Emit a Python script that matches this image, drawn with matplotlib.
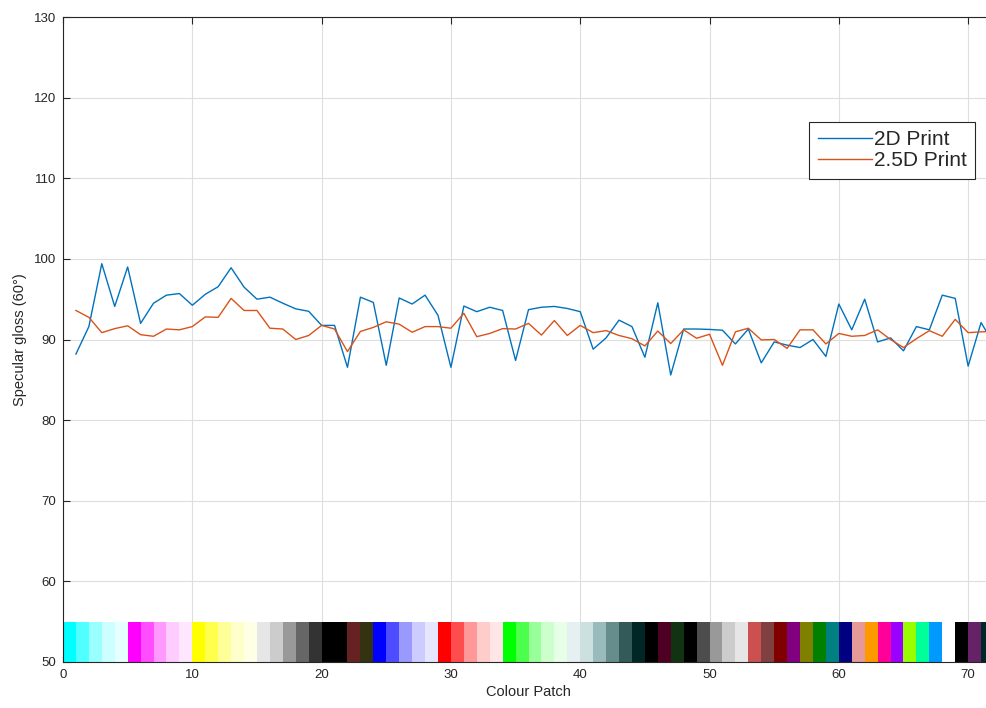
import numpy as np
import matplotlib.pyplot as plt
from matplotlib.lines import Line2D

plt.rcParams['font.family'] = ['Liberation Sans', 'DejaVu Sans']

# gloss readings, patch 1..72
patch_no = list(range(1, 73))
gloss_2d = [88.2, 91.6, 99.4, 94.1, 99.0, 92.0, 94.5, 95.5, 95.7, 94.25,
            95.6, 96.55, 98.9, 96.5, 95.0, 95.25, 94.5, 93.8, 93.5, 91.75,
            91.75, 86.55, 95.25, 94.6, 86.8, 95.15, 94.4, 95.5, 93.0, 86.55,
            94.15, 93.45, 94.0, 93.6, 87.4, 93.7, 94.0, 94.1, 93.85, 93.45,
            88.8, 90.2, 92.4, 91.6, 87.8, 94.55, 85.6, 91.3, 91.3, 91.25,
            91.15, 89.45, 91.3, 87.1, 89.7, 89.3, 89.0, 90.0, 87.9, 94.4,
            91.2, 95.0, 89.7, 90.2, 88.6, 91.6, 91.2, 95.5, 95.1, 86.7,
            92.1, 89.4]
gloss_25d = [93.6, 92.75, 90.85, 91.35, 91.7, 90.6, 90.4, 91.3, 91.2, 91.6,
             92.8, 92.75, 95.1, 93.6, 93.6, 91.4, 91.3, 90.0, 90.5, 91.75,
             91.3, 88.5, 91.0, 91.5, 92.2, 91.9, 90.9, 91.6, 91.6, 91.4,
             93.25, 90.35, 90.75, 91.35, 91.3, 92.0, 90.55, 92.35, 90.5, 91.75,
             90.85, 91.1, 90.5, 90.1, 89.2, 91.05, 89.5, 91.2, 90.15, 90.65,
             86.8, 90.95, 91.4, 89.95, 90.0, 88.9, 91.2, 91.2, 89.45, 90.75,
             90.4, 90.5, 91.2, 90.0, 89.0, 90.1, 91.1, 90.4, 92.5, 90.85,
             90.95, 91.0]

# colour of each printed patch (0-255 RGB)
patch_rgb = [
    (0, 255, 255), (80, 255, 255), (153, 255, 255), (204, 255, 255), (230, 255, 255),
    (255, 0, 255), (255, 77, 255), (255, 153, 255), (255, 204, 255), (255, 230, 255),
    (255, 255, 0), (255, 255, 77), (255, 255, 153), (255, 255, 204), (255, 255, 230),
    (230, 230, 230), (204, 204, 204), (153, 153, 153), (102, 102, 102), (51, 51, 51),
    (0, 0, 0), (0, 0, 0), (102, 34, 34), (51, 51, 17),
    (0, 0, 255), (77, 77, 255), (153, 153, 255), (204, 204, 255), (230, 230, 255),
    (255, 0, 0), (255, 77, 77), (255, 153, 153), (255, 204, 204), (255, 230, 230),
    (0, 255, 0), (77, 255, 77), (153, 255, 153), (204, 255, 204), (230, 255, 230),
    (230, 240, 240), (204, 224, 224), (153, 187, 187), (102, 140, 140), (51, 89, 89),
    (0, 38, 38), (0, 0, 0), (77, 0, 34), (17, 51, 17),
    (0, 0, 0), (77, 77, 77), (153, 153, 153), (204, 204, 204), (230, 230, 230),
    (204, 80, 80), (128, 64, 64), (128, 0, 0), (128, 0, 128), (128, 128, 0),
    (0, 128, 0), (0, 128, 128), (0, 0, 128), (230, 153, 153), (255, 153, 0),
    (255, 0, 153), (153, 0, 255), (153, 255, 0), (0, 255, 153), (0, 153, 255),
    (255, 255, 255), (0, 0, 0), (102, 34, 102), (0, 38, 38),
]

blue = (0, 0.447, 0.741)
orange = (0.85, 0.325, 0.098)
axcol = (0.15, 0.15, 0.15)

fig = plt.figure(figsize=(9.87, 7.08), dpi=100)
ax = fig.add_axes([63 / 987, 1 - 662 / 708, 931 / 987, 645 / 708])

cols = [tuple(c / 255 for c in rgb) for rgb in patch_rgb]
ax.bar(np.arange(len(cols)), 5, bottom=50, width=1, align='edge',
       color=cols, linewidth=0, zorder=2)

ax.plot(patch_no, gloss_2d, color=blue, lw=1, zorder=3)
ax.plot(patch_no, gloss_25d, color=orange, lw=1, zorder=3)

ax.set_xlim(0, 72)
ax.set_ylim(50, 130)
ax.set_xticks(range(0, 71, 10))
ax.set_yticks(range(50, 131, 10))
ax.grid(True, color=(0.87, 0.87, 0.87), lw=0.8)
ax.set_axisbelow(True)
ax.tick_params(direction='in', length=5, labelsize=9.5, colors=axcol,
               top=True, right=True, pad=5)
for s in ax.spines.values():
    s.set_color(axcol)
    s.set_linewidth(0.8)

ax.set_xlabel('Colour Patch', fontsize=10.5, color=axcol, labelpad=3)
ax.set_ylabel('Specular gloss (60°)', fontsize=10.5, color=axcol, labelpad=5)

handles = [Line2D([], [], color=blue, lw=1), Line2D([], [], color=orange, lw=1)]
leg = ax.legend(handles, ['2D Print', '2.5D Print'], loc='upper right',
                bbox_to_anchor=(975 / 987, 1 - 122 / 708),
                bbox_transform=fig.transFigure, fontsize=15,
                fancybox=False, edgecolor=axcol, framealpha=1,
                handlelength=2.6, borderpad=0.4, labelspacing=0.1,
                handletextpad=0.1, borderaxespad=0)
leg.get_frame().set_linewidth(0.8)
for t in leg.get_texts():
    t.set_color(axcol)

fig.savefig('out.png', dpi=100)
